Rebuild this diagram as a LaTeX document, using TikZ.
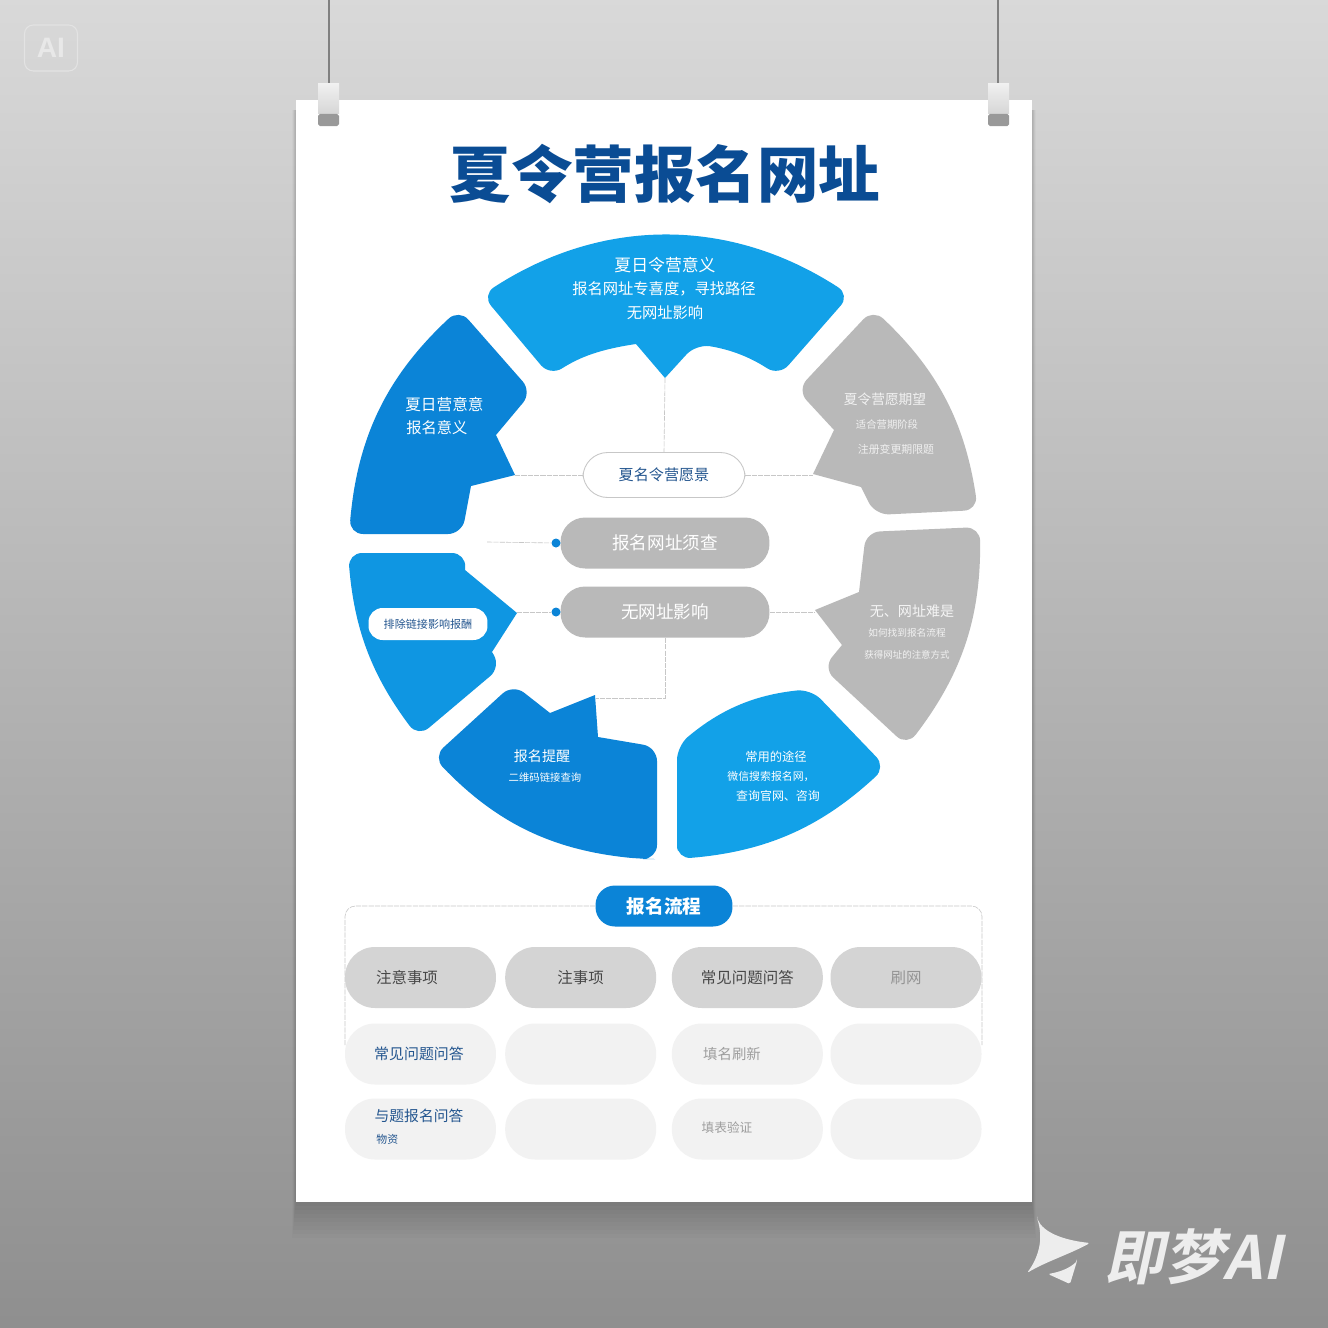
\documentclass[tikz,border=0pt]{standalone}
\usepackage{fontspec}
\setmainfont{Noto Sans CJK SC}
\newfontfamily\markfont[FakeSlant=0.22]{Noto Sans CJK SC Bold}
\newfontfamily\badgefont{Liberation Sans}
\usetikzlibrary{positioning}
\definecolor{deepblue}{HTML}{0B84D7}
\definecolor{midblue}{HTML}{0F96E2}
\definecolor{lightblue}{HTML}{12A1E8}
\definecolor{segrey}{HTML}{B9B9B9}
\definecolor{titleblue}{HTML}{0A4C94}
\definecolor{inkblue}{HTML}{24568F}
\tikzset{
	seg/.style={rounded corners=8pt},
	conn/.style={draw=black!22,dashed,dash pattern=on 3pt off 0.6pt,line width=0.35pt},
	txt/.style={font=\fontsize{#1}{#1}\selectfont,inner sep=0pt,align=center},
	txt/.default=9,
	midpill/.style={fill=segrey,rounded corners=14pt,minimum width=4.18cm,minimum height=1.02cm,text=white,inner sep=0pt,font=\fontsize{10}{10}\selectfont},
	hipill/.style={fill=black!17,rounded corners=17pt,minimum width=3.02cm,minimum height=1.22cm,inner sep=0pt,text=black!72,font=\fontsize{8.8}{8.8}\selectfont},
	lopill/.style={hipill,fill=black!5,text=inkblue}
}
\begin{document}
\begin{tikzpicture}[x=0.02cm,y=-0.02cm]
	\path[use as bounding box,top color=black!15,bottom color=black!44] (0,0) rectangle (1328,1328);

	% poster and its hangers
	\foreach \s in {4,8,...,36}
		\fill[black,opacity=0.02] (296-\s*0.1,110) rectangle (1032+\s*0.1,1202+\s);
	\fill[white] (296,100) rectangle (1032,1202);
	\draw[black!50,line width=0.6pt] (329,0) -- (329,85);
	\draw[black!50,line width=0.6pt] (998,0) -- (998,85);
	\foreach \x in {318,988}{
		\fill[top color=black!6,bottom color=black!16] (\x,84) rectangle (\x+21,114);
		\fill[black!40,rounded corners=1pt] (\x,114) rectangle (\x+21,126);
	}

	\node[rounded corners=5pt,draw=black!11,line width=0.6pt,minimum width=1.06cm,minimum height=0.92cm,inner sep=0pt,text=black!9,font=\badgefont\bfseries\fontsize{16}{16}\selectfont] (badge) at (51,48) {AI};
	\node[txt=35,font=\bfseries\fontsize{35}{35}\selectfont,text=titleblue] (title) at (665,174) {夏令营报名网址};

	% ring of segments
	\fill[lightblue,seg] (482,295) to[bend left=33] (850,295) -- (779,376) to[bend right=12] (696,344) [sharp corners] -- (665,378) -- (636,344) [rounded corners=8pt] to[bend right=12] (550,376) -- cycle;
	\fill[deepblue,seg] (349,534) to[bend left=21] (459,309) -- (532,392) [sharp corners] -- (496,435) -- (515,475) -- (471,486) [rounded corners=8pt] -- (462,534) -- cycle;
	\fill[segrey,seg] (873,309) to[bend left=19] (978,510) -- (875,515) [sharp corners] -- (861,487) -- (813,474) -- (834,430) [rounded corners=8pt] -- (797,390) -- cycle;
	\fill[segrey,seg] (866,532) -- (980,527) to[bend left=19] (907,746) -- (823,668) [sharp corners] -- (842,645) -- (815,610) -- (859,592) [rounded corners=8pt] -- cycle;
	\fill[midblue,seg] (418,737) to[bend left=16] (348,553) -- (466,553) [sharp corners] -- (465,570) -- (517,613) -- (492,652) [rounded corners=8pt] -- (501,667) -- cycle;
	\fill[deepblue,seg] (641,859) to[bend left=20] (433,757) -- (513,684) [sharp corners] -- (550,713) -- (595,695) -- (598,737) [rounded corners=8pt] -- (657,747) -- (657,859) -- cycle;
	\fill[lightblue,seg] (677,859) -- (677,746) to[bend left=17] (811,689) -- (886,767) to[bend left=19] cycle;

	% centre
	\node[rounded corners=14pt,draw=black!22,fill=white,line width=0.5pt,minimum width=3.24cm,minimum height=0.9cm,inner sep=0pt,text=inkblue,font=\fontsize{8.6}{8.6}\selectfont] (oval) at (664,475) {夏名令营愿景};
	\node[midpill] (pillA) at (665,543) {报名网址须查};
	\node[midpill] (pillB) at (665,612) {无网址影响};
	\node[circle,fill=deepblue,minimum size=0.18cm,inner sep=0pt] (dotA) at (556,543) {};
	\node[circle,fill=deepblue,minimum size=0.18cm,inner sep=0pt] (dotB) at (556,612) {};

	\coordinate (tipTop) at (665,378);
	\coordinate (tipLeft) at (515,475);
	\coordinate (tipRight) at (813,475);
	\coordinate (endA) at (487,542);
	\coordinate (tipMid) at (517,612);
	\coordinate (tipLow) at (815,612);
	\coordinate (bendB) at (665,698);
	\coordinate (tipNotch) at (596,698);

	\draw[conn] (tipTop) -- (oval.north);
	\draw[conn] (tipLeft) -- (oval.west);
	\draw[conn] (oval.east) -- (tipRight);
	\draw[conn] (endA) -- (dotA);
	\draw[conn] (tipMid) -- (dotB);
	\draw[conn] (pillB.east) -- (tipLow);
	\draw[conn] (pillB.south) -- (bendB) -- (tipNotch);

	% texts on the segments
	\node[txt=9.6,text=white] (topA) at (665,265) {夏日令营意义};
	\node[txt=8.7,text=white] (topB) at (664,289) {报名网址专喜度，寻找路径};
	\node[txt=8.7,text=white] (topC) at (665,313) {无网址影响};
	\node[txt=8.9,text=white,anchor=west] (leftA) at (405,405) {夏日营意意};
	\node[txt=8.7,text=white,anchor=west] (leftB) at (406,428) {报名意义};
	\node[txt=7.8,text=black!5] (rightA) at (885,399) {夏令营愿期望};
	\node[txt=5.9,text=black!6] (rightB) at (887,425) {适合营期阶段};
	\node[txt=6.2,text=black!6] (rightC) at (896,449) {注册变更期限题};
	\node[txt=8,text=black!4] (lowA) at (912,611) {无、网址难是};
	\node[txt=5.5,text=black!5] (lowB) at (907,633) {如何找到报名流程};
	\node[txt=5.4,text=black!5] (lowC) at (907,655) {获得网址的注意方式};
	\node[rounded corners=8pt,fill=white,minimum width=2.38cm,minimum height=0.64cm,inner sep=0pt,text=inkblue,font=\fontsize{6.3}{6.3}\selectfont] (warn) at (428,624) {排除链接影响报酬};
	\node[txt=8,text=white] (botA) at (542,756) {报名提醒};
	\node[txt=5.9,text=white] (botB) at (545,778) {二维码链接查询};
	\node[txt=7,text=white] (brA) at (776,757) {常用的途径};
	\node[txt=6.2,text=white] (brB) at (771,776) {微信搜索报名网，};
	\node[txt=6.8,text=white] (brC) at (778,796) {查询官网、咨询};

	% process table
	\node[fill=deepblue,rounded corners=11pt,minimum width=2.74cm,minimum height=0.82cm,inner sep=0pt,text=white,font=\bfseries\fontsize{10.6}{10.6}\selectfont] (head) at (664,906) {报名流程};
	\draw[conn,rounded corners=6pt] (head.west) -- (345,906) -- (345,1045);
	\draw[conn,rounded corners=6pt] (head.east) -- (982,906) -- (982,1045);

	\node[hipill] (a1) at (420.5,977.5) {};
	\node[hipill,right=0.17cm of a1] (a2) {注事项};
	\node[hipill,right=0.3cm of a2] (a3) {常见问题问答};
	\node[hipill,right=0.14cm of a3,text=black!42] (a4) {刷网};
	\node[lopill] (b1) at (420.5,1054) {};
	\node[lopill,right=0.17cm of b1] (b2) {};
	\node[lopill,right=0.3cm of b2] (b3) {};
	\node[lopill,right=0.14cm of b3] (b4) {};
	\node[lopill] (c1) at (420.5,1129) {};
	\node[lopill,right=0.17cm of c1] (c2) {};
	\node[lopill,right=0.3cm of c2] (c3) {};
	\node[lopill,right=0.14cm of c3] (c4) {};

	\node[txt=8.8,text=black!72] (a1t) at (407,978) {注意事项};
	\node[txt=8.5,text=inkblue] (b1t) at (419,1054) {常见问题问答};
	\node[txt=8.2,text=black!38] (b3t) at (732,1054) {填名刷新};
	\node[txt=8.4,text=inkblue] (c1t) at (419,1116) {与题报名问答};
	\node[txt=6.2,text=inkblue,anchor=west] (c1u) at (376,1139) {物资};
	\node[txt=7.2,text=black!38] (c3t) at (727,1128) {填表验证};

	% watermark
	\fill[black!7,rounded corners=1pt] (1037,1218) .. controls (1043,1232) and (1062,1240) .. (1090,1243) .. controls (1070,1254) and (1045,1262) .. (1027,1273) .. controls (1038,1258) and (1044,1240) .. cycle;
	\fill[black!7,rounded corners=1pt] (1077,1261) -- (1070,1284) -- (1048,1274) .. controls (1060,1272) and (1070,1268) .. cycle;
	\node[txt=34,text=black!7,font=\markfont\fontsize{34}{34}\selectfont,anchor=west] (mark) at (1104,1257) {即梦AI};
\end{tikzpicture}
\end{document}
